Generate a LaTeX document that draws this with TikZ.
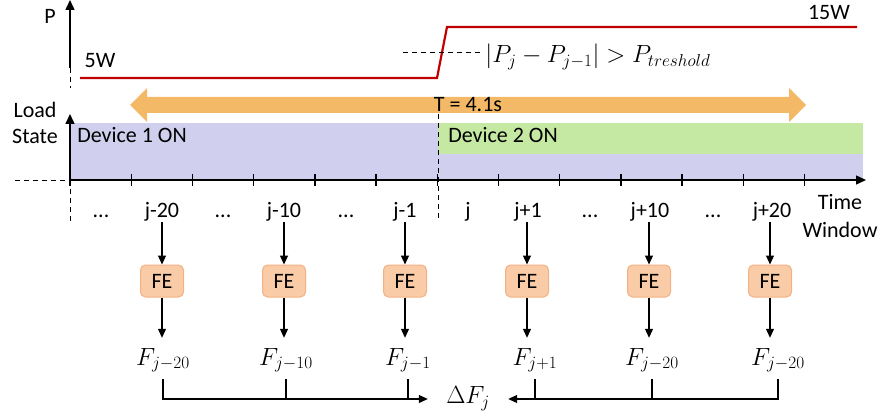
\documentclass[tikz,border=0pt]{standalone}
\usepackage{fontspec}
\setmainfont{Carlito}
\usetikzlibrary{arrows.meta,calc}
\definecolor{stateblue}{HTML}{D0D0EE}
\definecolor{stategreen}{HTML}{C5E8A2}
\definecolor{spanorange}{HTML}{F4B966}
\definecolor{fefill}{HTML}{F9CBA6}
\definecolor{fedraw}{HTML}{F4B183}
\definecolor{powerred}{HTML}{C00000}
\begin{document}
\begin{tikzpicture}[x=1pt,y=-1pt,
  txt/.style={font=\fontsize{22}{26}\selectfont, inner sep=0pt},
  mtxt/.style={font=\fontsize{25.5}{30}\selectfont, inner sep=0pt},
  winlbl/.style={txt, anchor=base, text height=16pt, text depth=5pt},
  axis/.style={line width=1.4pt},
  tip/.style={-{Triangle[length=10pt,width=9pt]}},
  guide/.style={line width=0.9pt, dash pattern=on 5pt off 4pt},
  febox/.style={draw=fedraw, fill=fefill, line width=1pt, rounded corners=5pt,
    minimum width=43pt, minimum height=32pt, inner sep=0pt,
    font=\fontsize{22}{26}\selectfont},
  feat/.style={mtxt, anchor=base, text height=27pt, text depth=14pt},
  flow/.style={line width=1.1pt, -{Triangle[length=9pt,width=8pt]}},
]
\useasboundingbox (0,0) rectangle (880,417);

% load state bands
\fill[stateblue] (70,123) rectangle (863,180);
\fill[stategreen] (438,123) rectangle (863,154);

% span of the analysis window
\fill[spanorange] (130,105) -- (147,88) -- (147,97) -- (789,97) -- (789,88)
  -- (806,105) -- (789,122) -- (789,113) -- (147,113) -- (147,122) -- cycle;
\node[txt] (span) at (468,105) {T = 4.1s};

% power axis
\coordinate (pbot) at (70,68);
\coordinate (ptop) at (70,0);
\coordinate (pdash) at (70,88);
\draw[axis, tip] (pbot) -- (ptop);
\draw[guide] (pbot) -- (pdash);
\node[txt] (plabel) at (50,16) {P};

% load state axis
\coordinate (o) at (70,180);
\coordinate (stop) at (70,114);
\coordinate (odown) at (70,222);
\coordinate (oleft) at (15,180);
\coordinate (tend) at (866,180);
\draw[axis, tip] (o) -- (stop);
\draw[guide] (o) -- (odown);
\draw[guide] (oleft) -- (o);
\draw[axis, tip] (o) -- (tend);
\foreach \i in {0,...,12} {
  \draw[axis] ({70+61.2*\i},174) -- ({70+61.2*\i},186);
}

% switching instant
\coordinate (swtop) at (438,114);
\coordinate (swbot) at (438,220);
\draw[guide] (swtop) -- (swbot);

% power trace
\coordinate (r0) at (80,78);
\coordinate (r1) at (437,78);
\coordinate (r2) at (447,27);
\coordinate (r3) at (857,27);
\draw[powerred, line width=2.2pt] (r0) -- (r1) -- (r2) -- (r3);
\coordinate (th0) at (403,52);
\coordinate (th1) at (480,52);
\draw[guide] (th0) -- (th1);
\node[txt] (p5) at (100,61) {5W};
\node[txt] (p15) at (829,12) {15W};
\node[mtxt] (cond) at (598,57)
  {$\left|P_j - P_{j-1}\right| > P_{treshold}$};

% axis and band labels
\node[txt, align=center] (lstate) at (35,123) {Load\\State};
\node[txt] (dev1) at (132,135) {Device 1 ON};
\node[txt] (dev2) at (503,135) {Device 2 ON};
\node[txt, align=center, font=\fontsize{22}{28}\selectfont] (twin) at (840,216) {Time\\Window};

% window indices
\node[winlbl] (w0) at (101,217) {...};
\node[winlbl] (w1) at (162,217) {j-20};
\node[winlbl] (w2) at (223,217) {...};
\node[winlbl] (w3) at (284,217) {j-10};
\node[winlbl] (w4) at (346,217) {...};
\node[winlbl] (w5) at (405,217) {j-1};
\node[winlbl] (w6) at (468,217) {j};
\node[winlbl] (w7) at (528,217) {j+1};
\node[winlbl] (w8) at (590,217) {...};
\node[winlbl] (w9) at (650,217) {j+10};
\node[winlbl] (w10) at (713,217) {...};
\node[winlbl] (w11) at (772,217) {j+20};

% feature extraction blocks
\node[febox] (fe1) at (162,281) {FE};
\node[febox] (fe2) at (284,281) {FE};
\node[febox] (fe3) at (405,281) {FE};
\node[febox] (fe4) at (527,281) {FE};
\node[febox] (fe5) at (649,281) {FE};
\node[febox] (fe6) at (770,281) {FE};

% features
\node[feat] (f1) at (163,365) {$F_{j-20}$};
\node[feat] (f2) at (286,365) {$F_{j-10}$};
\node[feat] (f3) at (408,365) {$F_{j-1}$};
\node[feat] (f4) at (535,365) {$F_{j+1}$};
\node[feat] (f5) at (652,365) {$F_{j-20}$};
\node[feat] (f6) at (778,365) {$F_{j-20}$};

\foreach \w/\b/\f in {w1/fe1/f1, w3/fe2/f2, w5/fe3/f3, w7/fe4/f4, w9/fe5/f5, w11/fe6/f6} {
  \draw[flow] (\w.south -| \b.north) -- (\b.north);
  \draw[flow] (\b.south) -- (\b.south |- \f.north);
}

% feature difference
\node[mtxt, minimum width=80pt] (df) at (468,399) {$\Delta F_j$};
\draw[flow] (f1.south) |- (df.west);
\draw[line width=1.1pt] (f2.south) -- (f2.south |- df.west);
\draw[line width=1.1pt] (f3.south) -- (f3.south |- df.west);
\draw[flow] (f6.south) |- (df.east);
\draw[line width=1.1pt] (f5.south) -- (f5.south |- df.east);
\draw[line width=1.1pt] (f4.south) -- (f4.south |- df.east);
\end{tikzpicture}
\end{document}
